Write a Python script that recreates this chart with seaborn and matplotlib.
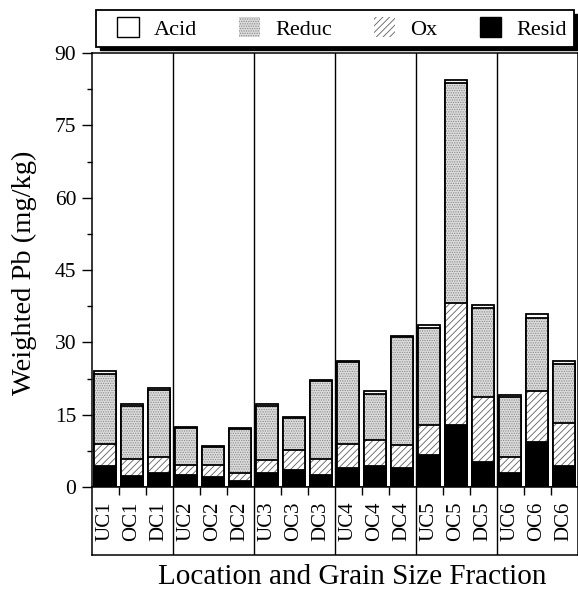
import numpy as np
import pandas as pd
import matplotlib
matplotlib.use("Agg")
import matplotlib.pyplot as plt
import seaborn as sns
from matplotlib.patches import Patch, Rectangle

samples = ["UC1", "OC1", "DC1", "UC2", "OC2", "DC2", "UC3", "OC3", "DC3",
           "UC4", "OC4", "DC4", "UC5", "OC5", "DC5", "UC6", "OC6", "DC6"]
resid = [4.3, 2.3, 2.8, 2.5, 2.0, 1.25, 3.0, 3.5, 2.4, 4.0, 4.4, 4.0, 6.7, 12.9, 5.1, 2.8, 9.3, 4.4]
ox = [4.7, 3.5, 3.5, 2.0, 2.5, 1.65, 2.6, 4.2, 3.4, 4.9, 5.4, 4.7, 6.1, 25.2, 13.6, 3.4, 10.6, 8.8]
reduc = [14.4, 11.0, 13.9, 7.7, 3.8, 9.2, 11.3, 6.6, 16.1, 17.1, 9.5, 22.4, 20.1, 45.7, 18.4, 12.5, 15.1, 12.3]
acid = [0.7, 0.4, 0.4, 0.3, 0.1, 0.2, 0.3, 0.2, 0.3, 0.2, 0.6, 0.3, 0.7, 0.6, 0.6, 0.3, 0.9, 0.6]
legend_labels = ["Acid", "Reduc", "Ox", "Resid"]
yticks = [0, 15, 30, 45, 60, 75, 90]

sns.set_theme(style="white")
plt.rcParams["font.family"] = ["Liberation Serif", "DejaVu Serif"]
plt.rcParams["hatch.linewidth"] = 0.6

df = pd.DataFrame({"sample": samples, "resid": resid, "ox": ox, "reduc": reduc, "acid": acid})
df["c_resid"] = df["resid"]
df["c_ox"] = df["c_resid"] + df["ox"]
df["c_reduc"] = df["c_ox"] + df["reduc"]
df["c_acid"] = df["c_reduc"] + df["acid"]

FW, FH = 578, 594
fig = plt.figure(figsize=(FW / 100, FH / 100), dpi=100)
ax = fig.add_axes([91.5 / FW, 1 - 487 / FH, (577.5 - 91.5) / FW, (487 - 53) / FH])
ax2 = fig.add_axes([91.5 / FW, 1 - 555 / FH, (577.5 - 91.5) / FW, (555 - 487) / FH])

W = 0.83
REDUC_FC, REDUC_HC, REDUC_H = "#dcdcdc", "#8a8a8a", "......."
OX_HC, OX_H = "#606060", "/////"
layers = [
    ("c_acid", "white", None, "#777777"),
    ("c_reduc", REDUC_FC, REDUC_H, REDUC_HC),
    ("c_ox", "white", OX_H, OX_HC),
    ("c_resid", "black", None, "black"),
]
for col, fc, hatch, hc in layers:
    kw = dict(data=df, x="sample", y=col, order=samples, ax=ax, width=W,
              errorbar=None, saturation=1)
    sns.barplot(**kw, color=fc, hatch=hatch, edgecolor=hc, linewidth=0)
    sns.barplot(**kw, color="black", fill=False, linewidth=1.3)

ax.set_xlim(-0.5, len(samples) - 0.5)
ax.set_ylim(0, 90)
ax.set_yticks(yticks)
ax.set_yticks(np.arange(7.5, 90, 15), minor=True)
ax.set_xticks([])
ax.set_xlabel("")
ax.set_ylabel("")
ax.tick_params(axis="y", which="major", direction="out", length=7, width=1,
               labelsize=15.5, left=True, pad=4, color="black", labelcolor="black")
ax.tick_params(axis="y", which="minor", direction="out", length=3.5, width=1, left=True, color="black")
for s in ax.spines.values():
    s.set_color("black")
    s.set_linewidth(1.1)
for b in [2.5, 5.5, 8.5, 11.5, 14.5]:
    ax.axvline(b, color="black", lw=1.0, zorder=0.5)
    ax2.axvline(b, color="black", lw=1.0)

ax2.set_xlim(-0.5, len(samples) - 0.5)
ax2.set_ylim(0, 1)
ax2.set_yticks([])
inner = [i + 0.5 for i in range(len(samples) - 1) if (i + 1) % 3 != 0]
ax2.set_xticks(inner)
ax2.set_xticklabels([])
ax2.tick_params(axis="x", top=True, bottom=False, direction="in", length=6, width=1,
                labeltop=False, labelbottom=False, color="black")
for s in ax2.spines.values():
    s.set_color("black")
    s.set_linewidth(1.1)
for i, lab in enumerate(samples):
    ax2.text(i, 0.79, lab, rotation=90, ha="center", va="top", fontsize=15, color="black")

fig.text(0.61, 1 - 584 / FH, "Location and Grain Size Fraction", ha="center",
         va="baseline", fontsize=21, color="black")
fig.text(0.042, 0.54, "Weighted Pb (mg/kg)", rotation=90, ha="center", va="center",
         fontsize=20.5, color="black")

# legend box with black drop shadow
bx0, by0, bx1, by1 = 96, 10, 574, 46.7
fig.patches.append(Rectangle((bx0 / FW + 3.5 / FW, 1 - (by1 + 3.5) / FH), (bx1 - bx0) / FW,
                             (by1 - by0) / FH, transform=fig.transFigure,
                             facecolor="black", edgecolor="black", zorder=5))
fig.patches.append(Rectangle((bx0 / FW, 1 - by1 / FH), (bx1 - bx0) / FW, (by1 - by0) / FH,
                             transform=fig.transFigure, facecolor="white",
                             edgecolor="black", linewidth=1.3, zorder=6))

handles = [
    Patch(facecolor="white", edgecolor="black", linewidth=1.0),
    Patch(facecolor=REDUC_FC, edgecolor=REDUC_HC, hatch=REDUC_H, linewidth=0),
    Patch(facecolor="white", edgecolor=OX_HC, hatch=OX_H, linewidth=0),
    Patch(facecolor="black", edgecolor="black", linewidth=1.0),
]
leg = fig.legend(handles, legend_labels, ncol=4, loc="center",
                 bbox_to_anchor=(342 / FW, 1 - 28.5 / FH),
                 fontsize=16, frameon=False,
                 handlelength=0.95, handleheight=0.95, handletextpad=0.68,
                 borderaxespad=0, borderpad=0, columnspacing=1.9)
leg.set_zorder(7)
for t in leg.get_texts():
    t.set_color("black")

fig.savefig("out.png", dpi=100, facecolor="white")
